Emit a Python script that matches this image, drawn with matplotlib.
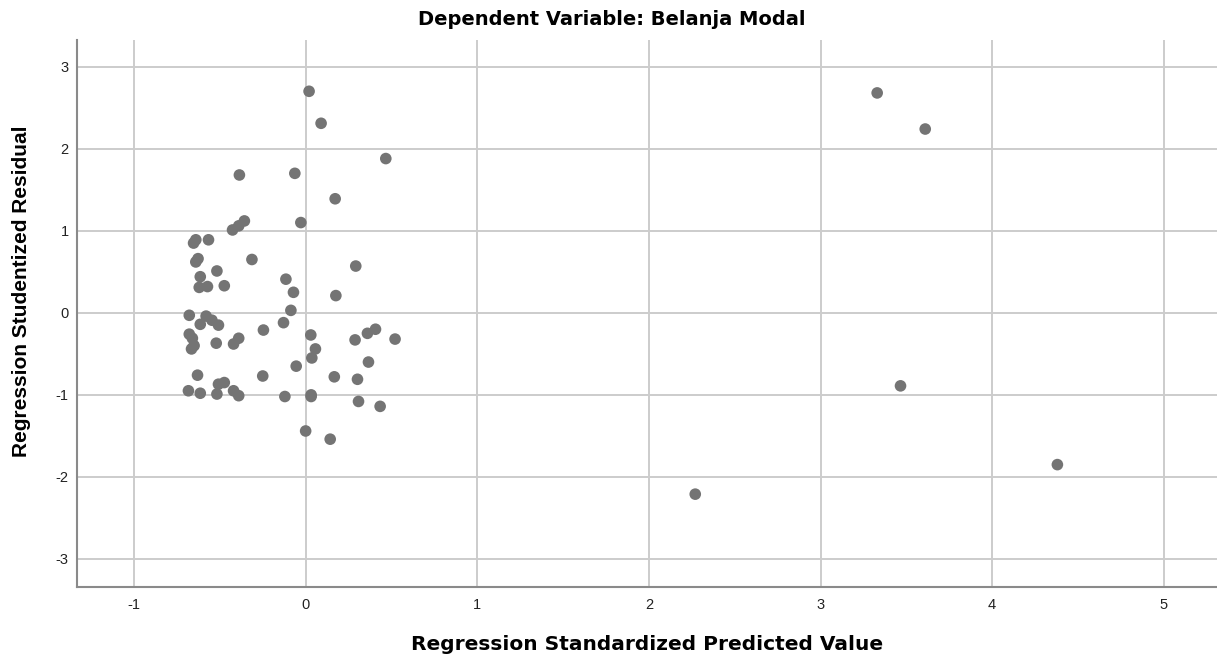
import matplotlib
matplotlib.use("Agg")
from matplotlib import pyplot as plt

# Regression Standardized Predicted Value
pred = [0.02, 0.09, 0.467, -0.386, -0.063, 0.172, -0.028, -0.357, -0.39, -0.426,
        -0.64, -0.653, -0.566, -0.627, -0.64, -0.313, -0.517, 0.292, -0.614, -0.62,
        -0.572, -0.474, -0.115, -0.071, 0.176, -0.086, -0.678, -0.58, -0.546, -0.508,
        -0.614, -0.129, -0.246, -0.678, -0.66, -0.65, -0.665, -0.521, -0.42, -0.39,
        0.03, 0.057, 0.036, 0.288, 0.36, 0.407, 0.521, 0.366, -0.055, -0.63,
        -0.25, 0.167, 0.302, -0.508, -0.474, -0.683, -0.614, -0.517, -0.42, -0.39,
        -0.121, 0.032, 0.032, 0.308, 0.434, 0.0, 0.143,
        3.33, 3.61, 3.466, 2.27, 4.38]
# Regression Studentized Residual
resid = [2.70, 2.31, 1.88, 1.68, 1.70, 1.39, 1.10, 1.12, 1.06, 1.01,
         0.89, 0.85, 0.89, 0.66, 0.62, 0.65, 0.51, 0.57, 0.44, 0.31,
         0.32, 0.33, 0.41, 0.25, 0.21, 0.03, -0.03, -0.04, -0.09, -0.15,
         -0.14, -0.12, -0.21, -0.26, -0.31, -0.40, -0.44, -0.37, -0.38, -0.31,
         -0.27, -0.44, -0.55, -0.33, -0.25, -0.20, -0.32, -0.60, -0.65, -0.76,
         -0.77, -0.78, -0.81, -0.87, -0.85, -0.95, -0.98, -0.99, -0.95, -1.01,
         -1.02, -1.00, -1.02, -1.08, -1.14, -1.44, -1.54,
         2.68, 2.24, -0.89, -2.21, -1.85]

xticks = [-1, 0, 1, 2, 3, 4, 5]
yticks = [-3, -2, -1, 0, 1, 2, 3]

plt.rcParams['font.family'] = ['Liberation Sans', 'DejaVu Sans']

fig = plt.figure(figsize=(12.17, 6.59), dpi=100)
ax = fig.add_axes([0.0633, 0.1097, 0.9367, 0.8296])

ax.scatter(pred, resid, s=70, color="#747474", edgecolors="none", zorder=3)

ax.set_xlim(-1.332, 5.31)
ax.set_ylim(-3.338, 3.325)
ax.set_xticks(xticks)
ax.set_yticks(yticks)
ax.set_xticklabels([str(v) for v in xticks])
ax.set_yticklabels([str(v) for v in yticks])
ax.tick_params(length=0, labelsize=10.5, colors="#222222")
ax.tick_params(axis="x", pad=8)
ax.tick_params(axis="y", pad=6)

ax.grid(True, color="#cccccc", linewidth=1.4)
ax.set_axisbelow(True)

for s in ["top", "right"]:
    ax.spines[s].set_visible(False)
for s in ["left", "bottom"]:
    ax.spines[s].set_color("#8a8a8a")
    ax.spines[s].set_linewidth(1.5)

# titles / axis labels placed in figure coords
fig.text(0.5316, 0.013, "Regression Standardized Predicted Value",
         family="DejaVu Sans", fontsize=14.5, fontweight="bold",
         ha="center", va="baseline")
fig.text(0.018, 0.5584, "Regression Studentized Residual", fontsize=15,
         fontweight="bold", rotation=90, ha="center", va="center")
fig.text(0.503, 0.962, "Dependent Variable: Belanja Modal",
         family="DejaVu Sans", fontsize=14, fontweight="bold",
         ha="center", va="baseline")

fig.savefig("out.png", dpi=100)
